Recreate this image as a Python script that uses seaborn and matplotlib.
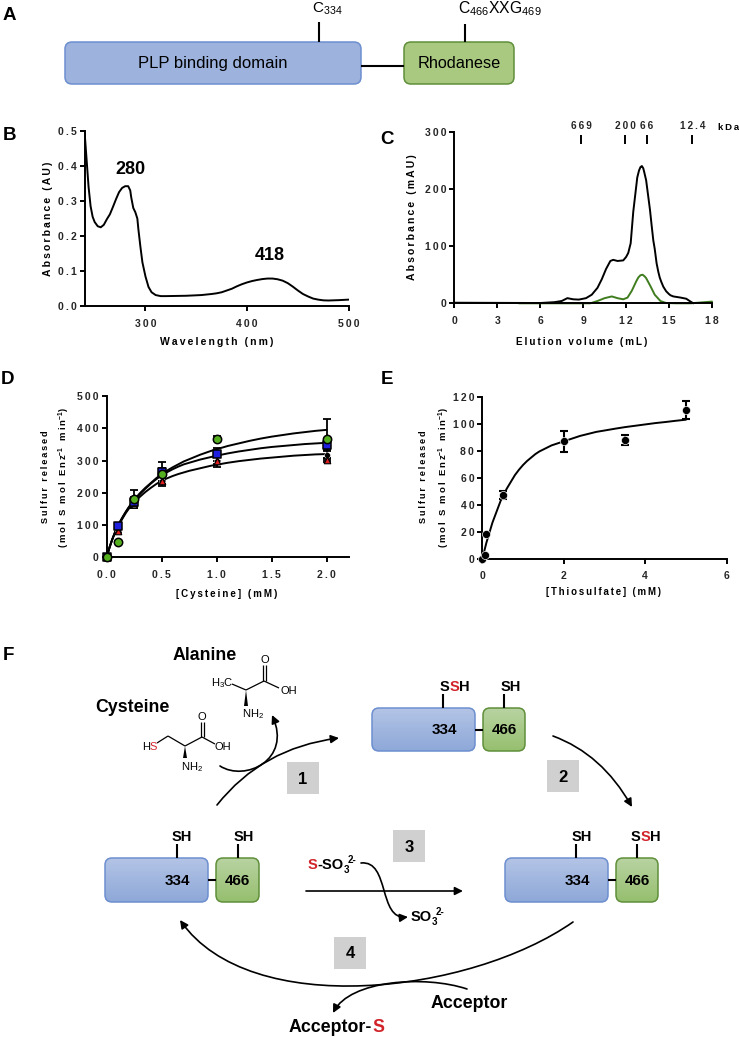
import numpy as np
import pandas as pd
import matplotlib
matplotlib.use('Agg')
import matplotlib.pyplot as plt
from matplotlib.patches import FancyBboxPatch, FancyArrowPatch, Rectangle, Polygon
from matplotlib.path import Path
from matplotlib.colors import LinearSegmentedColormap
import seaborn as sns

sns.set_style('ticks')
plt.rcParams['font.family'] = ['Liberation Sans', 'DejaVu Sans']
plt.rcParams['mathtext.fontset'] = 'custom'
plt.rcParams['mathtext.rm'] = 'Liberation Sans'
plt.rcParams['mathtext.bf'] = 'Liberation Sans:bold'
plt.rcParams['mathtext.it'] = 'Liberation Sans:italic'

W, H = 739, 1037

# panel B spectrum
wave = [240, 241, 242, 243, 244, 246, 248, 250, 253, 256, 259, 262, 265, 268, 271, 274, 277, 280, 283, 285, 286, 288,
        290, 292, 293, 295, 297, 300, 303, 306, 310, 315, 320, 340, 355, 365, 370, 375, 380, 385, 390, 395, 400, 405,
        410, 415, 420, 425, 430, 435, 440, 445, 450, 455, 460, 465, 470, 475, 480, 490, 500]
absorb = [0.5, 0.46, 0.42, 0.38, 0.34, 0.285, 0.255, 0.24, 0.228, 0.225, 0.232, 0.248, 0.262, 0.283, 0.305, 0.325, 0.337,
          0.342, 0.342, 0.33, 0.31, 0.28, 0.268, 0.25, 0.22, 0.17, 0.125, 0.085, 0.055, 0.04, 0.032, 0.029,
          0.029, 0.03, 0.032, 0.035, 0.037, 0.04, 0.045, 0.05, 0.057, 0.063, 0.068, 0.072,
          0.075, 0.0775, 0.079, 0.079, 0.077, 0.073, 0.066, 0.056, 0.045, 0.035, 0.028, 0.022, 0.019, 0.017,
          0.0165, 0.0175, 0.019]

# panel C elution
vol_black = [0, 6, 7, 7.5, 7.9, 8.3, 8.7, 9.2, 9.6, 10, 10.3, 10.6, 10.9, 11.1, 11.4, 11.8, 12, 12.15, 12.32, 12.5, 12.64,
             12.78, 12.9, 13, 13.05, 13.1, 13.2, 13.27, 13.4, 13.53, 13.67, 13.78, 13.9, 14, 14.13, 14.25, 14.35, 14.45,
             14.6, 14.8, 15, 15.1, 15.3, 15.8, 16.2, 16.5, 16.7]
mau_black = [1, 0.5, 2, 4, 9, 7, 6.5, 9, 15, 27, 42, 60, 74, 76, 74, 75, 81, 88, 105, 160, 190,
             220, 232, 238, 239, 240, 236, 229, 215, 190, 163, 137, 110, 95, 70, 55, 45, 38,
             29, 21, 16, 14, 12, 10, 8, 3, 0]
vol_green = [4.5, 9.5, 10, 10.5, 11, 11.4, 11.8, 12.1, 12.4, 12.7, 12.85, 13, 13.15, 13.3, 13.4, 13.7, 14, 14.4, 14.8, 15.5, 16.5, 17, 17.5, 18]
mau_green = [0, 0, 4, 9, 12, 9, 7, 10, 22, 38, 45, 49, 50, 47, 44, 30, 15, 4, 0.5, 0, 0, 1, 2, 3]
kda_pos = [8.85, 11.92, 13.46, 16.63]
kda_labels = ['669', '200', '66', '12.4']

# panel D
cys = [0, 0.1, 0.25, 0.5, 1, 2]
d_black = [0, 85, 165, 237, 298, 316]
d_black_err = [0, 8, 12, 17, 18, 15]
d_red = [0, 82, 168, 238, 300, 302]
d_red_err = [0, 6, 10, 12, 12, 6]
d_blue = [0, 96, 172, 265, 320, 347]
d_blue_err = [0, 6, 15, 30, 20, 15]
d_green = [0, 46, 180, 257, 368, 368]
d_green_err = [0, 3, 28, 20, 8, 60]
fit_x = [0, .025, .05, .075, .1, .125, .15, .175, .2, .225, .25, .3, .35, .4, .45, .5, .55, .6, .65, .7, .75, .8, .85, .9,
         .95, 1, 1.1, 1.2, 1.3, 1.4, 1.5, 1.6, 1.7, 1.8, 1.9, 2]
fit_top = [0, 30, 55, 77, 96, 113, 128, 142, 155, 167, 178, 198, 215, 230, 245, 258, 269, 279, 288, 297, 304, 311, 318, 324,
           330, 335, 345, 353, 361, 368, 374, 379, 384, 388, 392, 395]
fit_mid = [0, 30, 55, 77, 95, 112, 127, 141, 154, 165, 176, 195, 212, 228, 242, 254, 264, 273, 281, 288, 293, 298, 303, 307,
           311, 315, 322, 328, 333, 338, 342, 345, 348, 351, 353, 355]
fit_low = [0, 30, 55, 76, 93, 109, 124, 138, 150, 160, 170, 187, 202, 215, 227, 237, 245, 252, 258, 263, 268, 272, 276, 280,
           284, 287, 293, 298, 302, 306, 309, 312, 315, 317, 319, 320]

# panel E
thio = [0, 0.066, 0.1, 0.52, 2, 3.5, 5]
e_rate = [0, 3, 18.5, 47.5, 87, 88, 110]
e_err = [0, 0, 0, 3, 8, 4, 6.5]
e_fit_x = [0, .025, .05, .075, .1, .15, .2, .25, .3, .35, .4, .45, .5, .6, .7, .8, .9, 1, 1.1, 1.2, 1.3, 1.4, 1.5, 1.6, 1.7,
           1.8, 1.9, 2, 2.2, 2.4, 2.6, 2.8, 3, 3.25, 3.5, 3.75, 4, 4.25, 4.5, 4.75, 5]
e_fit_y = [0, 3, 6, 9, 12, 17, 22, 27, 31, 35, 39, 43, 46, 52, 57, 62, 66, 69.5, 72.5, 75, 77.5, 79.5, 81, 82.5, 84,
           85, 86, 87, 89, 91, 92.5, 94, 95, 96.3, 97.5, 98.5, 99.5, 100.5, 101.3, 102.2, 103]

BLUE, BLUE_E = '#9db3de', '#6d8fcf'
GREEN, GREEN_E = '#a8c97f', '#5f8f3a'
GREY = '#d0d0d0'
RED = '#d2232a'
LINE_GREEN = '#3f7d1f'


def sp(s, gap='\u2009'):
    return gap.join(s)


def make_axes(fig, x0, x1, ytop, ybot):
    ax = fig.add_axes([x0 / W, 1 - ybot / H, (x1 - x0) / W, (ybot - ytop) / H])
    sns.despine(ax=ax)
    for s in ['left', 'bottom']:
        ax.spines[s].set_linewidth(1.4)
        ax.spines[s].set_color('black')
    ax.tick_params(width=1.4, length=3.8, color='black')
    ax.tick_params(axis='x', pad=5)
    ax.tick_params(axis='y', pad=2)
    ax.patch.set_alpha(0)
    return ax


def set_ticks(ax, xt, xl, yt, yl, fs=7.5):
    ax.set_xticks(xt)
    ax.set_xticklabels([sp(t) for t in xl], fontsize=fs, fontweight='bold')
    ax.set_yticks(yt)
    ax.set_yticklabels([sp(t) for t in yl], fontsize=fs, fontweight='bold')
    ax.set_xlabel('')
    ax.set_ylabel('')


fig = plt.figure(figsize=(W / 100, H / 100), dpi=100)
fig.patch.set_facecolor('white')

# B
ax = make_axes(fig, 84.5, 348.7, 130.7, 306.3)
sns.lineplot(x=wave, y=absorb, color='black', lw=1.4, ax=ax, estimator=None, sort=False)
ax.set_xlim(240, 500)
ax.set_ylim(0, 0.5)
set_ticks(ax, [300, 400, 500], ['300', '400', '500'],
          [0, 0.1, 0.2, 0.3, 0.4, 0.5], ['0.0', '0.1', '0.2', '0.3', '0.4', '0.5'])

# C
ax = make_axes(fig, 454.3, 712, 131.7, 303.3)
sns.lineplot(x=vol_black, y=mau_black, color='black', lw=1.4, ax=ax, estimator=None, sort=False, clip_on=False)
sns.lineplot(x=vol_green, y=mau_green, color=LINE_GREEN, lw=1.4, ax=ax, estimator=None, sort=False, clip_on=False)
ax.set_xlim(0, 18)
ax.set_ylim(0, 300)
set_ticks(ax, [0, 3, 6, 9, 12, 15, 18], ['0', '3', '6', '9', '12', '15', '18'],
          [0, 100, 200, 300], ['0', '100', '200', '300'])
ax.vlines(kda_pos, 278, 294, color='black', lw=1.4)
for p, lab in zip(kda_pos, kda_labels):
    ax.text(p, 302, sp(lab), ha='center', va='bottom', fontsize=7.2, fontweight='bold', clip_on=False)

# D
ax = make_axes(fig, 106.7, 349.3, 396, 557.3)
for fit in [fit_top, fit_mid, fit_low]:
    sns.lineplot(x=fit_x, y=fit, color='black', lw=1.4, ax=ax, estimator=None, sort=False, zorder=2)
for y, e in [(d_black, d_black_err), (d_red, d_red_err), (d_blue, d_blue_err), (d_green, d_green_err)]:
    ax.errorbar(cys, y, yerr=e, ls='none', color='black', elinewidth=1.3, capsize=3, capthick=1.3, zorder=3, clip_on=False)
sns.scatterplot(x=cys, y=d_black, marker='o', color='black', s=18, ax=ax, zorder=4, clip_on=False, legend=False)
sns.scatterplot(x=cys, y=d_red, marker='^', color='#e02020', edgecolor='black', linewidth=0.8, s=22, ax=ax, zorder=5, clip_on=False, legend=False)
sns.scatterplot(x=cys, y=d_blue, marker='s', color='#1f1fe0', edgecolor='black', linewidth=1.1, s=34, ax=ax, zorder=6, clip_on=False, legend=False)
sns.scatterplot(x=cys, y=d_green, marker='o', color='#55b020', edgecolor='black', linewidth=1.1, s=36, ax=ax, zorder=7, clip_on=False, legend=False)
ax.set_xlim(0, 2.206)
ax.set_ylim(0, 500)
set_ticks(ax, [0, 0.5, 1, 1.5, 2], ['0.0', '0.5', '1.0', '1.5', '2.0'],
          [0, 100, 200, 300, 400, 500], ['0', '100', '200', '300', '400', '500'])

# E
ax = make_axes(fig, 482.3, 726.7, 396.7, 559)
sns.lineplot(x=e_fit_x, y=e_fit_y, color='black', lw=1.4, ax=ax, estimator=None, sort=False, zorder=2)
ax.errorbar(thio, e_rate, yerr=e_err, ls='none', color='black', elinewidth=1.5, capsize=3, capthick=1.5, zorder=3, clip_on=False)
sns.scatterplot(x=thio, y=e_rate, marker='o', color='black', s=34, ax=ax, zorder=4, clip_on=False, legend=False)
ax.set_xlim(0, 6)
ax.set_ylim(0, 120)
set_ticks(ax, [0, 2, 4, 6], ['0', '2', '4', '6'],
          [0, 20, 40, 60, 80, 100, 120], ['0', '20', '40', '60', '80', '100', '120'])

# overlay in pixel coordinates for labels and the scheme
ov = fig.add_axes([0, 0, 1, 1], zorder=10)
ov.axis('off')
ov.patch.set_alpha(0)


def txt(x, y, s, fs=9, bold=True, color='black', ha='center', rot=0):
    ov.text(x, y, s, fontsize=fs, fontweight='bold' if bold else 'normal', color=color,
            ha=ha, va='center', rotation=rot, clip_on=False, zorder=6)


def box(x0, y0, x1, y1, fc, ec, r=7, grad=None):
    p = FancyBboxPatch((x0 + r, y0 + r), x1 - x0 - 2 * r, y1 - y0 - 2 * r,
                       boxstyle='round,pad=%d,rounding_size=%d' % (r, r), fc=fc if grad is None else 'none', ec=ec, lw=1.1, zorder=3)
    ov.add_patch(p)
    if grad is not None:
        cm = LinearSegmentedColormap.from_list('g', grad)
        im = ov.imshow(np.linspace(0, 1, 64).reshape(-1, 1), cmap=cm, extent=(x0, x1, y1, y0), aspect='auto', zorder=2)
        im.set_clip_path(p)


def ln(x0, y0, x1, y1, lw=1.5, color='black'):
    ov.plot([x0, x1], [y0, y1], color=color, lw=lw, solid_capstyle='butt', zorder=4)


def curve(pts, codes, ms=12):
    ov.add_patch(FancyArrowPatch(path=Path(pts, codes), arrowstyle='-|>', mutation_scale=ms,
                                 color='black', lw=1.2, shrinkA=0, shrinkB=0, zorder=5))


for x, y, s in [(9, 15, 'A'), (9, 135, 'B'), (387, 139, 'C'), (8, 380, 'D'), (387, 380, 'E'), (8, 655, 'F')]:
    txt(x, y, s, fs=13.5)

# axis titles
txt(216.7, 341.7, sp('Wavelength (nm)'), fs=7.5)
txt(582, 341.7, sp('Elution volume (mL)'), fs=7.1)
txt(227, 594, sp('[Cysteine] (mM)'), fs=7)
txt(604, 592, sp('[Thiosulfate] (mM)'), fs=6.9)
txt(48, 218.7, sp('Absorbance (AU)'), fs=7.5, rot=90)
txt(412, 216.7, sp('Absorbance (mAU)'), fs=7.5, rot=90)
for x1, x2, yc in [(46, 64, 477), (424, 444, 477)]:
    txt(x1, yc, sp('Sulfur released'), fs=6.6, rot=90)
    txt(x2, yc, sp('(mol S mol Enz') + r'$^{\mathbf{-1}}$ ' + sp(' min') + r'$^{\mathbf{-1}}$' + ')', fs=6.8, rot=90)
txt(130, 170, '280', fs=13)
txt(270, 256, '418', fs=13)
txt(729, 127, sp('kDa'), fs=6.8)

# A domain map
box(65, 42, 361, 84, BLUE, BLUE_E)
box(404, 42, 514, 84, GREEN, GREEN_E)
ln(361, 65.5, 404, 65.5)
ln(319, 22, 319, 42)
ln(465, 24, 465, 42)
txt(213, 63.5, 'PLP binding domain', fs=12, bold=False)
txt(459, 63.5, 'Rhodanese', fs=11.7, bold=False)
txt(312, 9, r'C$_{334}$', fs=11, bold=False, ha='left')
txt(458, 9, r'C$_{466}$XXG$_{469}$', fs=11.3, bold=False, ha='left')

BLUE_G = ['#b3c4e6', '#8ea8d8']
GREEN_G = ['#b8d3a2', '#96bf6e']


def enzyme(xb, y0, y1, xg0, xg1, xt1, xt2):
    box(xb, y0, xb + 103, y1, BLUE, BLUE_E, grad=BLUE_G)
    box(xg0, y0, xg1, y1, GREEN, GREEN_E, grad=GREEN_G)
    ym = (y0 + y1) / 2
    ln(xb + 103, ym, xg0, ym)
    ln(xt1, y0 - 14, xt1, y0)
    ln(xt2, y0 - 14, xt2, y0)
    txt(xb + 72, ym + 1, '334', fs=11)
    txt((xg0 + xg1) / 2, ym + 1, '466', fs=11)


enzyme(372, 708, 751, 483, 525, 443, 504)
enzyme(105, 858, 902, 216, 259, 177, 238)
enzyme(505, 858, 902, 616, 658, 576, 637)


def sh(x, y, red=False):
    if red:
        txt(x - 10, y, 'S', fs=10.5)
        txt(x, y, 'S', fs=10.5, color=RED)
        txt(x + 10.5, y, 'H', fs=10.5)
    else:
        txt(x, y, 'SH', fs=10.5)


sh(454, 687, True)
sh(511, 687)
sh(182, 837)
sh(244, 837)
sh(582, 837)
sh(645, 837, True)

for x0, y0, s in [(287, 762, '1'), (547, 760, '2'), (393, 830, '3'), (334, 937, '4')]:
    ov.add_patch(Rectangle((x0, y0), 32, 32, fc=GREY, ec='none'))
    txt(x0 + 16, y0 + 17, s, fs=12)

M, C3, C4, L = Path.MOVETO, Path.CURVE3, Path.CURVE4, Path.LINETO
curve([(217, 805), (262, 748), (339, 738)], [M, C3, C3])
curve([(220, 766), (245, 782), (292, 760), (272, 715)], [M, C4, C4, C4])
curve([(553, 736), (602, 754), (632, 807)], [M, C3, C3])
curve([(306, 891), (463, 891)], [M, L])
curve([(361, 863), (390, 860), (378, 920), (408, 917)], [M, C4, C4, C4])
curve([(573, 922), (470, 994), (250, 1020), (180, 920)], [M, C4, C4, C4])
curve([(467, 989), (425, 975), (350, 980), (333, 1013)], [M, C4, C4, C4])

# substrates
txt(205, 656, 'Alanine', fs=12.8)
txt(132, 707, 'Cysteine', fs=12.8)
txt(469, 1003, 'Acceptor', fs=12.8)
txt(289, 1028, 'Acceptor-', fs=12.8, ha='left')
txt(372, 1028, 'S', fs=12.8, color=RED, ha='left')
txt(308, 865, 'S', fs=10.5, color=RED, ha='left')
txt(317, 865, '-SO', fs=10.5, ha='left')
txt(344, 870, '3', fs=7, ha='left')
txt(348, 860, '2-', fs=7, ha='left')
txt(411, 917, 'SO', fs=10.5, ha='left')
txt(432, 922, '3', fs=7, ha='left')
txt(436, 912, '2-', fs=7, ha='left')

# alanine structure
for seg in [((263, 665), (263, 681)), ((265.5, 665), (265.5, 681)), ((264, 681), (279, 688)), ((264, 681), (246, 690)), ((246, 690), (232, 684))]:
    ln(seg[0][0], seg[0][1], seg[1][0], seg[1][1], lw=0.9)
ov.add_patch(Polygon([(246, 690), (244, 706), (248, 706)], fc='black', ec='none'))
txt(264.5, 660, 'O', fs=8, bold=False)
txt(289, 691, 'OH', fs=8, bold=False)
txt(222, 683, r'H$_3$C', fs=8, bold=False)
txt(253, 714, r'NH$_2$', fs=8, bold=False)

# cysteine structure
for seg in [((201, 722), (201, 737)), ((203.5, 722), (203.5, 737)), ((202, 737), (215, 744)), ((202, 737), (185, 746)), ((185, 746), (168, 736)), ((168, 736), (157, 743))]:
    ln(seg[0][0], seg[0][1], seg[1][0], seg[1][1], lw=0.9)
ov.add_patch(Polygon([(185, 746), (183, 758), (187, 758)], fc='black', ec='none'))
txt(202, 717, 'O', fs=8, bold=False)
txt(223, 747, 'OH', fs=8, bold=False)
txt(146, 747, 'H', fs=8, bold=False)
txt(153.5, 747, 'S', fs=8, bold=False, color=RED)
txt(192, 767, r'NH$_2$', fs=8, bold=False)

ov.set_xlim(0, W)
ov.set_ylim(H, 0)

plt.savefig('out.png', dpi=100)
